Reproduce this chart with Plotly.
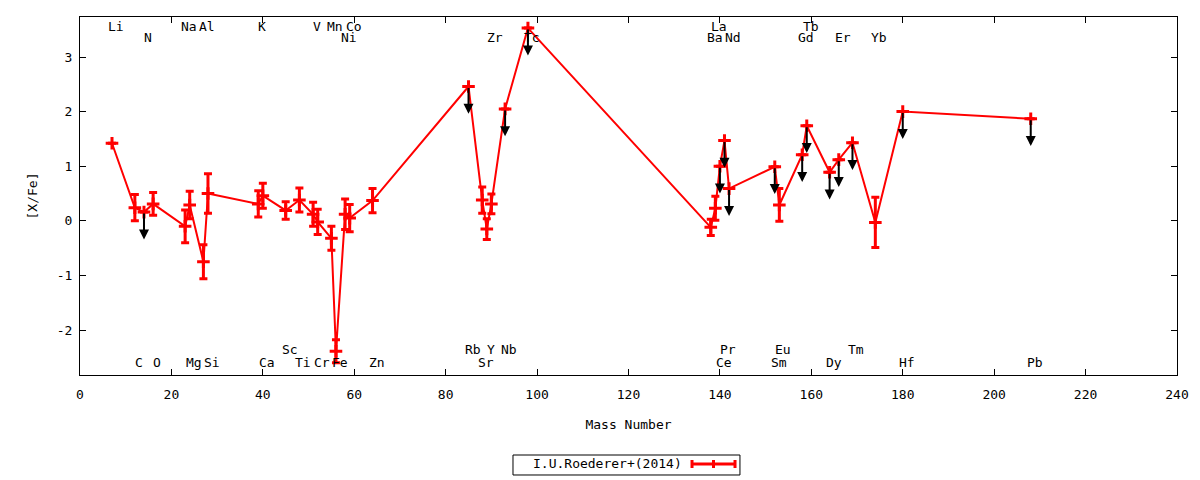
import plotly.graph_objects as go

# abundance pattern, I.U.Roederer+(2014)
elements = ['Li', 'C', 'N', 'O', 'Na', 'Mg', 'Al', 'Si', 'K', 'Ca',
            'Sc', 'Ti', 'V', 'Cr', 'Mn', 'Fe', 'Ni', 'Co', 'Zn', 'Rb',
            'Sr', 'Y', 'Zr', 'Nb', 'Tc', 'Ba', 'La', 'Ce', 'Pr', 'Nd',
            'Sm', 'Eu', 'Gd', 'Tb', 'Dy', 'Er', 'Tm', 'Yb', 'Hf', 'Pb']
mass = [7, 12, 14, 16, 23, 24, 27, 28, 39, 40,
        45, 48, 51, 52, 55, 56, 58, 59, 64, 85,
        88, 89, 90, 93, 98, 138, 139, 140, 141, 142,
        152, 153, 158, 159, 164, 166, 169, 174, 180, 208]
x_fe = [1.42, 0.24, 0.16, 0.31, -0.10, 0.29, -0.75, 0.50, 0.31, 0.46,
        0.19, 0.38, 0.12, -0.02, -0.32, -2.39, 0.12, 0.05, 0.37, 2.46,
        0.38, -0.15, 0.31, 2.05, 3.53, -0.12, 0.23, 1.00, 1.47, 0.59,
        0.99, 0.29, 1.21, 1.74, 0.89, 1.12, 1.43, -0.03, 2.00, 1.87]
err = [None, 0.24, 0, 0.21, 0.30, 0.25, 0.31, 0.36, 0.24, 0.23,
       0.16, 0.22, 0.22, 0.23, 0.22, 0.21, 0.28, 0.25, 0.22, 0,
       0.24, 0.19, 0.18, 0, 0, 0.15, 0.22, 0, 0, 0,
       0, 0.30, 0, 0, 0, 0, 0, 0.46, 0, 0]
upper_limit = ['N', 'Rb', 'Nb', 'Tc', 'Ce', 'Pr', 'Nd', 'Sm', 'Gd', 'Tb',
               'Dy', 'Er', 'Tm', 'Hf', 'Pb']
arrow_len = 0.5

y_ticks = [-2, -1, 0, 1, 2, 3]
y_tick_text = ['-2', '-1', '0', '1', '2', '3']

# which row each element name goes in: 0,1 top rows, 2,3 bottom rows
label_row = {'Li': 0, 'C': 3, 'N': 1, 'O': 3, 'Na': 0, 'Mg': 3, 'Al': 0, 'Si': 3,
             'K': 0, 'Ca': 3, 'Sc': 2, 'Ti': 3, 'V': 0, 'Cr': 3, 'Mn': 0, 'Fe': 3,
             'Ni': 1, 'Co': 0, 'Zn': 3, 'Rb': 2, 'Sr': 3, 'Y': 2, 'Zr': 1, 'Nb': 2,
             'Tc': 1, 'Ba': 1, 'La': 0, 'Ce': 3, 'Pr': 2, 'Nd': 1, 'Sm': 3, 'Eu': 2,
             'Gd': 1, 'Tb': 0, 'Dy': 3, 'Er': 1, 'Tm': 2, 'Yb': 1, 'Hf': 3, 'Pb': 3}
row_y = [3.55, 3.35, -2.35, -2.60]

FONT = 'DejaVu Sans Mono'
RED = 'rgb(255,0,0)'

fig = go.Figure()

fig.add_trace(go.Scatter(
    x=mass, y=x_fe,
    mode='lines+markers',
    line=dict(color=RED, width=2),
    marker=dict(symbol='cross-thin', size=9, color=RED,
                line=dict(color=RED, width=3)),
    error_y=dict(type='data', array=err, visible=True,
                 color=RED, thickness=3, width=4),
    name='I.U.Roederer+(2014)',
    showlegend=False,
    hoverinfo='x+y'
))

annotations = []
# upper limit arrows
for el, m, v in zip(elements, mass, x_fe):
    if el in upper_limit:
        annotations.append(dict(
            x=m, y=v - arrow_len, ax=m, ay=v,
            xref='x', yref='y', axref='x', ayref='y',
            showarrow=True, arrowhead=2, arrowsize=1, arrowwidth=2,
            arrowcolor='black', standoff=0, startstandoff=0, text=''
        ))

# element names
for el, m in zip(elements, mass):
    annotations.append(dict(
        x=m, y=row_y[label_row[el]], xref='x', yref='y',
        text=el, showarrow=False, xshift=4,
        font=dict(family=FONT, size=13, color='black')
    ))

# hand-made legend box (text left, sample right, like gnuplot)
annotations.append(dict(
    x=0.4813, y=-0.2486, xref='paper', yref='paper',
    xanchor='center', yanchor='middle',
    text='I.U.Roederer+(2014)', showarrow=False,
    font=dict(family=FONT, size=13, color='black')
))

shapes = [
    dict(type='rect', xref='paper', yref='paper',
         x0=0.3947, x1=0.6016, y0=-0.2235, y1=-0.2793,
         line=dict(color='black', width=1)),
    dict(type='line', xref='paper', yref='paper',
         x0=0.5579, x1=0.5971, y0=-0.2486, y1=-0.2486,
         line=dict(color=RED, width=3)),
    dict(type='line', xref='paper', yref='paper',
         x0=0.5579, x1=0.5579, y0=-0.2374, y1=-0.2598,
         line=dict(color=RED, width=3)),
    dict(type='line', xref='paper', yref='paper',
         x0=0.5971, x1=0.5971, y0=-0.2374, y1=-0.2598,
         line=dict(color=RED, width=3)),
    dict(type='line', xref='paper', yref='paper',
         x0=0.5775, x1=0.5775, y0=-0.2374, y1=-0.2598,
         line=dict(color=RED, width=3)),
]

fig.update_layout(
    width=1200, height=480,
    margin=dict(l=80, r=23, t=17, b=105),
    plot_bgcolor='white', paper_bgcolor='white',
    font=dict(family=FONT, size=13, color='black'),
    annotations=annotations,
    shapes=shapes,
    showlegend=False,
)

fig.update_xaxes(
    range=[0, 240], dtick=20, tick0=0,
    ticks='inside', ticklen=6, tickcolor='black',
    ticklabelstandoff=7,
    showgrid=False, zeroline=False,
    showline=True, linecolor='black', linewidth=1, mirror='ticks',
    title=dict(text='Mass Number', standoff=19,
               font=dict(family=FONT, size=13, color='black')),
)
fig.update_yaxes(
    range=[-2.824, 3.733],
    tickvals=y_ticks, ticktext=y_tick_text,
    ticks='inside', ticklen=6, tickcolor='black',
    ticklabelstandoff=4,
    showgrid=False, zeroline=False,
    showline=True, linecolor='black', linewidth=1, mirror='ticks',
    title=dict(text='[X/Fe]', standoff=16,
               font=dict(family=FONT, size=13, color='black')),
)

fig.write_html("out.html", config={'displayModeBar': False},
               post_script="document.body.style.margin='0';")
